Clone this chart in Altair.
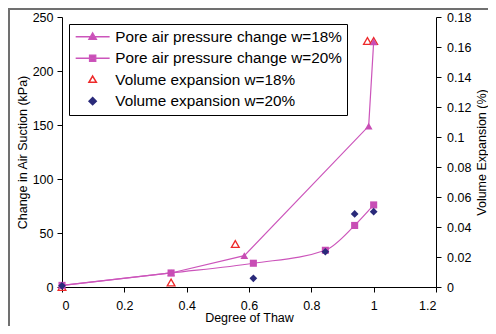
import altair as alt
import pandas as pd

# ---- data ----
thaw_p18 = [0.0, 0.35, 0.585, 0.984, 1.0]
press_p18 = [1.5, 13, 29, 149, 227]
thaw_p20 = [0.0, 0.35, 0.614, 0.845, 0.939, 1.0]
press_p20 = [1.5, 13, 22, 34, 57, 76]
thaw_v18 = [0.0, 0.35, 0.556, 0.98, 1.0]
vol_v18 = [0.0, 0.003, 0.0287, 0.164, 0.164]
thaw_v20 = [0.0, 0.614, 0.845, 0.939, 1.0]
vol_v20 = [0.0008, 0.0058, 0.0235, 0.0487, 0.0502]

series_names = [
    "Pore air pressure change w=18%",
    "Pore air pressure change w=20%",
    "Volume expansion w=18%",
    "Volume expansion w=20%",
]
x_ticks = [0, 0.2, 0.4, 0.6, 0.8, 1.0, 1.2]
left_ticks = [0, 50, 100, 150, 200, 250]
right_ticks = [0, 0.02, 0.04, 0.06, 0.08, 0.1, 0.12, 0.14, 0.16, 0.18]

MAG_LINE = "#CC55BB"
MAG = "#C84DB5"
RED = "#EE2A2A"
NAVY = "#2A2A7A"
FONT = "Liberation Sans"

# legend symbols: marker with a line through it for the pressure series
legend_shapes = [
    "M-2.83,0L2.83,0M0,-0.6L0.6,0.42L-0.6,0.42Z",
    "M-2.83,0L2.83,0M-0.5,-0.5L0.5,-0.5L0.5,0.5L-0.5,0.5Z",
    "M0,-0.6L0.62,0.45L-0.62,0.45Z",
    "M0,-0.6L0.6,0L0,0.6L-0.6,0Z",
]
legend_fills = [MAG, MAG, "white", NAVY]
legend_strokes = [MAG_LINE, MAG_LINE, RED, NAVY]

p18 = pd.DataFrame({"thaw": thaw_p18, "val": press_p18})
p20 = pd.DataFrame({"thaw": thaw_p20, "val": press_p20})
v18 = pd.DataFrame({"thaw": thaw_v18, "vol": vol_v18})
v20 = pd.DataFrame({"thaw": thaw_v20, "vol": vol_v20})
leg = pd.DataFrame({"series": series_names,
                    "thaw": [None] * 4, "val": [None] * 4})

x_enc = alt.X(
    "thaw:Q",
    scale=alt.Scale(domain=[0, 1.2], nice=False),
    axis=alt.Axis(values=x_ticks, format="~g", title="Degree of Thaw",
                  tickSize=5, labelPadding=7, titlePadding=0),
)
y_left = alt.Y(
    "val:Q",
    scale=alt.Scale(domain=[0, 250], nice=False),
    axis=alt.Axis(orient="left", values=left_ticks,
                  title="Change in Air Suction (kPa)",
                  tickSize=5, labelPadding=4, titlePadding=3),
)
y_right = alt.Y(
    "vol:Q",
    scale=alt.Scale(domain=[0, 0.18], nice=False),
    axis=alt.Axis(orient="right", values=right_ticks, format="~g",
                  title="Volume Expansion (%)", titleAngle=270,
                  titleBaseline="top", tickSize=5, labelPadding=5.5,
                  titlePadding=5),
)
y_right_hidden = alt.Y(
    "vol:Q", scale=alt.Scale(domain=[0, 0.18], nice=False), axis=None
)

frame = alt.Chart(alt.Data(values=[{}])).mark_rect(
    filled=False, stroke="#707070", strokeWidth=2
).encode(
    x=alt.value(-53), x2=alt.value(480), y=alt.value(-8), y2=alt.value(400)
)

line18 = alt.Chart(p18).mark_line(color=MAG_LINE, strokeWidth=1.2).encode(
    x=x_enc, y=y_left)
pts18 = alt.Chart(p18).mark_point(
    shape="triangle-up", filled=True, size=60, color=MAG, opacity=1
).encode(x=x_enc, y=y_left)
line20 = alt.Chart(p20).mark_line(
    color=MAG_LINE, strokeWidth=1.2, interpolate="monotone"
).encode(x=x_enc, y=y_left)
pts20 = alt.Chart(p20).mark_point(
    shape="square", filled=True, size=50, color=MAG, opacity=1
).encode(x=x_enc, y=y_left)

legend = alt.Legend(
    title=None, orient="none", legendX=7, legendY=7,
    symbolSize=144, symbolStrokeWidth=1.5, symbolOffset=11,
    labelOffset=15, labelLimit=0, rowPadding=5.5, padding=5,
    strokeColor="black", fillColor="white",
    labelFont=FONT, labelFontSize=15.3, labelColor="black",
)
legend_layer = alt.Chart(leg).mark_point(
    size=144, strokeWidth=1.5, opacity=1
).encode(
    x=x_enc, y=y_left,
    shape=alt.Shape("series:N", scale=alt.Scale(domain=series_names, range=legend_shapes), legend=legend),
    fill=alt.Fill("series:N", scale=alt.Scale(domain=series_names, range=legend_fills), legend=legend),
    stroke=alt.Stroke("series:N", scale=alt.Scale(domain=series_names, range=legend_strokes), legend=legend),
)

vol18 = alt.Chart(v18).mark_point(
    shape="triangle-up", filled=False, size=60, color=RED, strokeWidth=1.3, opacity=1
).encode(x=x_enc, y=y_right)
vol20 = alt.Chart(v20).mark_point(
    shape="diamond", filled=True, size=60, color=NAVY, opacity=1
).encode(x=x_enc, y=y_right_hidden)

left_group = alt.layer(frame, line18, line20, pts18, pts20, legend_layer)
right_group = alt.layer(vol18)
navy_group = alt.layer(vol20)

chart = alt.layer(right_group, left_group, navy_group).resolve_scale(
    y="independent"
).properties(
    width=374, height=270,
    padding={"left": 54, "top": 9, "right": 52, "bottom": 39},
    autosize=alt.AutoSizeParams(type="none"),
).configure_view(stroke=None).configure_axis(
    grid=False, domainColor="black", tickColor="black",
    labelColor="black", titleColor="black",
    labelFont=FONT, titleFont=FONT, labelFontSize=12.5, titleFontSize=12.5,
    titleFontWeight="normal",
)

chart.save("out.html", embed_options={"renderer": "svg", "actions": False})
